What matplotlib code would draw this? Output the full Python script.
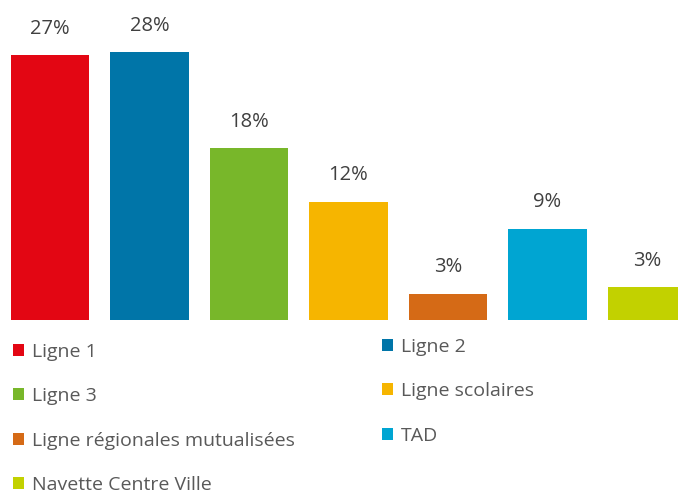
import matplotlib
matplotlib.use("Agg")
import matplotlib.pyplot as plt

categories = ["Ligne 1", "Ligne 2", "Ligne 3", "Ligne scolaires",
              "Ligne régionales mutualisées", "TAD", "Navette Centre Ville"]
values = [27.3, 27.6, 17.7, 12.2, 2.7, 9.4, 3.4]
value_labels = ["27%", "28%", "18%", "12%", "3%", "9%", "3%"]
colors = ["#E30613", "#0075A8", "#78B72A", "#F6B500", "#D56A16", "#00A5D2", "#C2D100"]

plt.rcParams['font.family'] = ['Open Sans', 'DejaVu Sans']

W, H = 678, 490
fig = plt.figure(figsize=(W / 100, H / 100), dpi=100)
scale = 9.7  # px per %
ymax = 30
ax_h = ymax * scale
ax_w = 7 * 99.5
ax = fig.add_axes([0.25 / W, (H - 320) / H, ax_w / W, ax_h / H])
x = list(range(len(categories)))
bars = ax.bar(x, values, width=0.785, color=colors)
ax.set_xlim(-0.5, 6.5)
ax.set_ylim(0, ymax)
ax.axis('off')

for b, lab in zip(bars.patches, value_labels):
    ax.annotate(lab, (b.get_x() + b.get_width() / 2, b.get_height()),
                xytext=(0, 19), textcoords='offset points',
                ha='center', va='center', fontsize=14.5, color='#404040')

handles = bars.patches
common = dict(frameon=False, fontsize=14, handlelength=0.57, handleheight=0.57,
              handletextpad=0.42, labelspacing=1.35, borderpad=0, borderaxespad=0,
              labelcolor='#595959', loc='upper left')
idx1 = [0, 2, 4, 6]
idx2 = [1, 3, 5]
leg1 = fig.legend([handles[i] for i in idx1], [categories[i] for i in idx1],
                  bbox_to_anchor=(13 / W, 1 - 343 / H), **common)
leg2 = fig.legend([handles[i] for i in idx2], [categories[i] for i in idx2],
                  bbox_to_anchor=(382 / W, 1 - 338 / H), **common)

fig.savefig("out.png", dpi=100)
